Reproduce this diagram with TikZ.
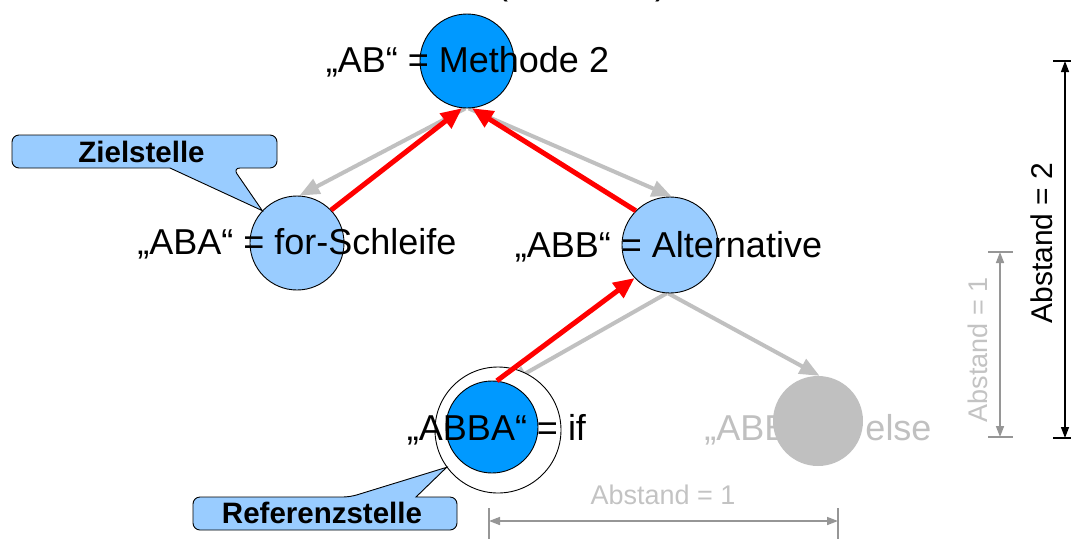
\documentclass[tikz,border=0pt]{standalone}
\usepackage{fontspec}
\setmainfont{Liberation Sans}
\usetikzlibrary{arrows.meta}
\pgfdeclarelayer{back}
\pgfsetlayers{back,main}

\definecolor{methblue}{RGB}{0,153,255}
\definecolor{paleblue}{RGB}{153,204,255}
\definecolor{ghost}{RGB}{192,192,192}
\definecolor{dimline}{RGB}{150,150,150}
\definecolor{dimtext}{RGB}{195,195,195}

\tikzset{
  vertex/.style={circle, draw=black, line width=0.9pt, inner sep=0pt, minimum size=#1},
  labeltext/.style={font=\fontsize{36}{42}\selectfont, anchor=base, inner sep=0pt},
  calltext/.style={font=\bfseries\fontsize{29.5}{34}\selectfont, anchor=base, inner sep=0pt},
  dimlabel/.style={font=\fontsize{27}{32}\selectfont, inner sep=0pt},
  upward/.style={draw=red, line width=5pt, -{Triangle[length=21pt,width=18pt]}},
  downward/.style={draw=ghost, line width=4pt, -{Triangle[length=20pt,width=16pt]}},
  callout/.style={fill=paleblue, draw=black, line width=0.9pt, line join=miter},
  dimarrow/.style={{Triangle[length=11pt,width=8pt]}-{Triangle[length=11pt,width=8pt]}},
}

\begin{document}
\begin{tikzpicture}[x=1pt,y=-1pt]
\useasboundingbox (0,0) rectangle (1071,539);
\clip (0,0) rectangle (1071,539);

% tree nodes
\node[vertex=94pt, fill=methblue] (ab) at (467,61) {};
\node[vertex=94pt, fill=paleblue] (aba) at (297,243) {};
\node[vertex=96pt, fill=paleblue] (abb) at (670,245) {};
\node[vertex=126pt, fill=white] (ring) at (498,430) {};
\node[vertex=92pt, fill=methblue] (abba) at (492,427) {};
\node[circle, fill=ghost, inner sep=0pt, minimum size=90pt] (abbb) at (818,421) {};

% descending edges (grey)
\begin{pgfonlayer}{back}
\draw[downward] (ab.268) -- (aba.87);
\draw[downward] (ab.272) -- (abb.88);
\draw[downward] (abb.266) -- (abba.70);
\draw[downward] (abb.268) -- (abbb.88);
\end{pgfonlayer}

% ascending path (red)
\draw[upward] (aba.44) -- (ab.264);
\draw[upward] (abb.135) -- (ab.276);
\draw[upward] (abba.84) -- (abb.223);

% node labels
\node[labeltext] (labAB) at (467.5,72) {„AB“ = Methode 2};
\node[labeltext] (labABA) at (297,254) {„ABA“ = for-Schleife};
\node[labeltext] (labABB) at (668.5,257) {„ABB“ = Alternative};
\node[labeltext] (labABBA) at (496.5,440) {„ABBA“ = if};
\node[labeltext, text=ghost] (labABBB) at (818,440) {„ABBB“ = else};
\node[labeltext] (parl) at (502,-6) {(};
\node[labeltext] (parr) at (661,-6) {)};

% callouts
\path[callout] (12,151) [rounded corners=7pt] -- (12,135) -- (277,135) -- (277,168) -- (233,168)
  [sharp corners] -- (aba.137) -- (170,168) [rounded corners=7pt] -- (12,168) -- cycle;
\node[calltext] (zst) at (141.5,162) {Zielstelle};
\path[callout] (193,513) [rounded corners=7pt] -- (193,497) -- (350,497)
  [sharp corners] -- (ring.216) -- (416,497) [rounded corners=7pt] -- (457,497) -- (457,530) -- (193,530) -- cycle;
\node[calltext] (rst) at (322,523) {Referenzstelle};

% distance markers
\coordinate (t2) at (1065,61);
\coordinate (b2) at (1065,438);
\draw[black, line width=1.3pt, dimarrow] (t2) -- (b2);
\draw[black, line width=1.3pt] (1053,61) -- (1075,61) (1053,438) -- (1075,438);
\node[dimlabel, rotate=90, font=\fontsize{30}{34}\selectfont] (d2) at (1042,243) {Abstand = 2};

\coordinate (t1) at (1000,252);
\coordinate (b1) at (1000,437);
\draw[dimline, line width=1.6pt, dimarrow] (t1) -- (b1);
\draw[dimline, line width=1.6pt] (988,252) -- (1013,252) (988,437) -- (1013,437);
\node[dimlabel, rotate=90, text=dimtext] (d1v) at (978,350) {Abstand = 1};

\coordinate (l1) at (489,521);
\coordinate (r1) at (838,521);
\draw[dimline, line width=1.6pt, dimarrow] (l1) -- (r1);
\draw[dimline, line width=1.6pt] (489,508) -- (489,539) (838,508) -- (838,539);
\node[dimlabel, text=dimtext] (d1h) at (663,495) {Abstand = 1};
\end{tikzpicture}
\end{document}
